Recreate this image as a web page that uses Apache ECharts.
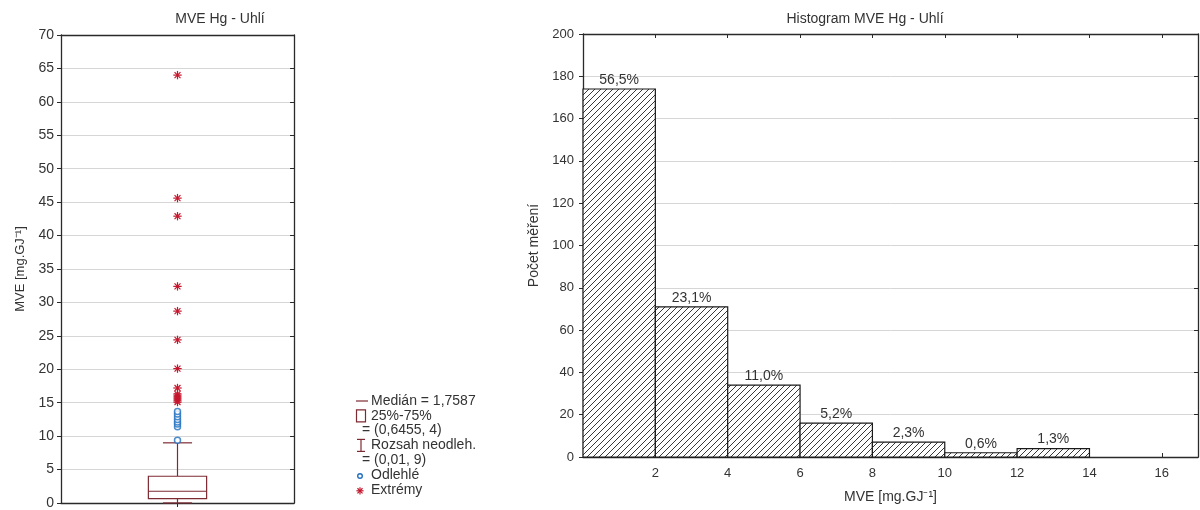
<!DOCTYPE html>
<html>
<head>
<meta charset="utf-8">
<script src="https://cdn.jsdelivr.net/npm/echarts@6/dist/echarts.min.js"></script>
<style>
  html, body { margin: 0; padding: 0; background: #fff; }
  #chart { width: 1200px; height: 510px; }
</style>
</head>
<body>
<div id="chart"></div>
<script>
// MVE Hg – coal: box plot summary (min of non-outlier range, Q1, median, Q3, max of non-outlier range)
const boxSummary = [0.01, 0.6455, 1.7587, 4, 9];
// Outliers (circles) and extremes (asterisks), mg.GJ-1
const outlierValues = [9.4, 11.4, 11.8, 12.1, 12.5, 12.9, 13.3, 13.7];
const extremeValues = [15.1, 15.4, 15.7, 16.0, 16.3, 17.2, 20.1, 24.4, 28.7, 32.4, 42.9, 45.6, 64.0];

// Histogram: bin edges and counts per bin
const binEdges = [0, 2, 4, 6, 8, 10, 12, 14];
const binCounts = [174, 71, 34, 16, 7, 2, 4];
const histTicks = [2, 4, 6, 8, 10, 12, 14, 16];

// Legend texts of the box plot
const legendLines = [
  'Medián = 1,7587',
  '25%-75%',
  '= (0,6455, 4)',
  'Rozsah neodleh.',
  '= (0,01, 9)',
  'Odlehlé',
  'Extrémy'
];

const FONT = '"Liberation Sans", Arial, sans-serif';
const TXT = '#333';
const AXIS = '#2a2a2a';
const GRIDC = '#d6d6d6';
const BOXC = '#7d2a33';
const OUTC = '#2270c0';
const EXTC = '#c4162c';

// diagonal hatch pattern for histogram bars
const hatch = (function () {
  const c = document.createElement('canvas');
  c.width = 6; c.height = 6;
  const g = c.getContext('2d');
  g.fillStyle = '#fff';
  g.fillRect(0, 0, 6, 6);
  g.strokeStyle = '#222';
  g.lineWidth = 0.9;
  g.beginPath();
  g.moveTo(-1, 7); g.lineTo(7, -1);
  g.moveTo(-1, 1); g.lineTo(1, -1);
  g.moveTo(5, 7); g.lineTo(7, 5);
  g.stroke();
  return { image: c, repeat: 'repeat' };
})();

const total = binCounts.reduce((a, b) => a + b, 0);
const histData = binCounts.map((n, i) => [binEdges[i], binEdges[i + 1], n]);

function asteriskChildren(cx, cy, r, color) {
  const d = r * Math.SQRT1_2;
  const segs = [[0, -r, 0, r], [-r, 0, r, 0], [-d, -d, d, d], [-d, d, d, -d]];
  return segs.map(s => ({
    type: 'line',
    shape: { x1: cx + s[0], y1: cy + s[1], x2: cx + s[2], y2: cy + s[3] },
    style: { stroke: color, lineWidth: 1.2 }
  }));
}

const chart = echarts.init(document.getElementById('chart'), null, { renderer: 'canvas' });

const axisLineStyle = { show: true, onZero: false, lineStyle: { color: AXIS, width: 1.3 } };
const labelStyle = (size) => ({ color: TXT, fontFamily: FONT, fontSize: size });

// legend graphics
const LX = 356, LY0 = 401, LDY = 14.8;
const legendGraphics = [];
legendGraphics.push({ type: 'line', shape: { x1: LX, y1: LY0, x2: LX + 12, y2: LY0 }, style: { stroke: BOXC, lineWidth: 1.2 } });
legendGraphics.push({ type: 'rect', shape: { x: LX + 0.5, y: LY0 + LDY - 6, width: 9, height: 12 }, style: { fill: '#fff', stroke: BOXC, lineWidth: 1.2 } });
const wy = LY0 + 3 * LDY;
legendGraphics.push({ type: 'line', shape: { x1: LX + 1, y1: wy - 6, x2: LX + 9, y2: wy - 6 }, style: { stroke: BOXC, lineWidth: 1.2 } });
legendGraphics.push({ type: 'line', shape: { x1: LX + 5, y1: wy - 6, x2: LX + 5, y2: wy + 6 }, style: { stroke: BOXC, lineWidth: 1.2 } });
legendGraphics.push({ type: 'line', shape: { x1: LX + 1, y1: wy + 6, x2: LX + 9, y2: wy + 6 }, style: { stroke: BOXC, lineWidth: 1.2 } });
legendGraphics.push({ type: 'circle', shape: { cx: LX + 4, cy: LY0 + 5 * LDY + 1, r: 2.3 }, style: { fill: '#fff', stroke: OUTC, lineWidth: 1.4 } });
asteriskChildren(LX + 4, LY0 + 6 * LDY + 1, 3.6, EXTC).forEach(g => legendGraphics.push(g));
legendLines.forEach((t, i) => {
  const indent = t.charAt(0) === '=' ? 6 : 15;
  legendGraphics.push({
    type: 'text',
    style: { text: t, x: LX + indent, y: LY0 + i * LDY, verticalAlign: 'middle', fill: TXT, font: '14px ' + FONT }
  });
});

const option = {
  animation: false,
  backgroundColor: '#fff',
  graphic: [
    { type: 'text', style: { text: 'MVE Hg - Uhlí', x: 220, y: 19, align: 'center', verticalAlign: 'middle', fill: TXT, font: '14px ' + FONT } },
    { type: 'text', style: { text: 'Histogram MVE Hg - Uhlí', x: 865, y: 19, align: 'center', verticalAlign: 'middle', fill: TXT, font: '14px ' + FONT } }
  ].concat(legendGraphics),
  grid: [
    { left: 61, top: 35, width: 233, height: 469 },
    { left: 583, top: 34, width: 615, height: 423 }
  ],
  xAxis: [
    {
      type: 'value', gridIndex: 0, min: 0, max: 2, interval: 1,
      axisLine: axisLineStyle,
      axisTick: { show: true, inside: false, length: 4, customValues: [1], lineStyle: { color: AXIS } },
      axisLabel: { show: false },
      splitLine: { show: false }
    },
    {
      type: 'value', gridIndex: 0, position: 'top', min: 0, max: 2, interval: 1,
      axisLine: axisLineStyle, axisTick: { show: false }, axisLabel: { show: false }, splitLine: { show: false }
    },
    {
      type: 'value', gridIndex: 1, min: 0, max: 17, interval: 2,
      axisLine: axisLineStyle,
      axisTick: { show: true, inside: true, length: 4, customValues: histTicks, lineStyle: { color: AXIS } },
      axisLabel: Object.assign({ margin: 10, customValues: histTicks }, labelStyle(13)),
      splitLine: { show: false },
      name: 'MVE [mg.GJ⁻¹]', nameLocation: 'middle', nameGap: 33,
      nameTextStyle: labelStyle(14)
    },
    {
      type: 'value', gridIndex: 1, position: 'top', min: 0, max: 17, interval: 2,
      axisLine: axisLineStyle,
      axisTick: { show: true, inside: true, length: 4, customValues: histTicks, lineStyle: { color: AXIS } },
      axisLabel: { show: false }, splitLine: { show: false }
    }
  ],
  yAxis: [
    {
      type: 'value', gridIndex: 0, min: 0, max: 70, interval: 5,
      axisLine: axisLineStyle,
      axisTick: { show: true, inside: false, length: 4, lineStyle: { color: AXIS } },
      axisLabel: Object.assign({ margin: 7 }, labelStyle(14)),
      splitLine: { show: true, lineStyle: { color: GRIDC, width: 1 } },
      name: 'MVE [mg.GJ⁻¹]', nameLocation: 'middle', nameGap: 34,
      nameTextStyle: labelStyle(13)
    },
    {
      type: 'value', gridIndex: 0, position: 'right', min: 0, max: 70, interval: 5,
      axisLine: axisLineStyle,
      axisTick: { show: true, inside: true, length: 4, lineStyle: { color: AXIS } },
      axisLabel: { show: false }, splitLine: { show: false }
    },
    {
      type: 'value', gridIndex: 1, min: 0, max: 200, interval: 20,
      axisLine: axisLineStyle,
      axisTick: { show: true, inside: false, length: 4, lineStyle: { color: AXIS } },
      axisLabel: Object.assign({ margin: 9 }, labelStyle(13)),
      splitLine: { show: true, lineStyle: { color: GRIDC, width: 1 } },
      name: 'Počet měření', nameLocation: 'middle', nameGap: 40,
      nameTextStyle: labelStyle(14)
    },
    {
      type: 'value', gridIndex: 1, position: 'right', min: 0, max: 200, interval: 20,
      axisLine: axisLineStyle,
      axisTick: { show: true, inside: true, length: 4, lineStyle: { color: AXIS } },
      axisLabel: { show: false }, splitLine: { show: false }
    }
  ],
  series: [
    {
      // box with whiskers
      type: 'custom', xAxisIndex: 0, yAxisIndex: 0,
      data: [[1].concat(boxSummary)],
      encode: { x: 0, y: [1, 2, 3, 4, 5] },
      renderItem: function (params, api) {
        const x = api.value(0);
        const pMin = api.coord([x, api.value(1)]);
        const pQ1 = api.coord([x, api.value(2)]);
        const pMed = api.coord([x, api.value(3)]);
        const pQ3 = api.coord([x, api.value(4)]);
        const pMax = api.coord([x, api.value(5)]);
        const bw = api.size([0.5, 0])[0];
        const cw = api.size([0.25, 0])[0];
        const cx = pMed[0];
        const st = { stroke: BOXC, lineWidth: 1.2, fill: null };
        return {
          type: 'group',
          children: [
            { type: 'line', shape: { x1: cx, y1: pQ3[1], x2: cx, y2: pMax[1] }, style: st },
            { type: 'line', shape: { x1: cx, y1: pQ1[1], x2: cx, y2: pMin[1] }, style: st },
            { type: 'line', shape: { x1: cx - cw / 2, y1: pMax[1], x2: cx + cw / 2, y2: pMax[1] }, style: st },
            { type: 'line', shape: { x1: cx - cw / 2, y1: pMin[1], x2: cx + cw / 2, y2: pMin[1] }, style: st },
            { type: 'rect', shape: { x: cx - bw / 2, y: pQ3[1], width: bw, height: pQ1[1] - pQ3[1] }, style: { stroke: BOXC, lineWidth: 1.2, fill: '#fff' } },
            { type: 'line', shape: { x1: cx - bw / 2, y1: pMed[1], x2: cx + bw / 2, y2: pMed[1] }, style: st }
          ]
        };
      },
      z: 2
    },
    {
      type: 'scatter', xAxisIndex: 0, yAxisIndex: 0,
      data: outlierValues.map(v => [1, v]),
      symbol: 'circle', symbolSize: 6,
      itemStyle: { color: '#fff', borderColor: OUTC, borderWidth: 1.5 },
      z: 3
    },
    {
      type: 'custom', xAxisIndex: 0, yAxisIndex: 0,
      data: extremeValues.map(v => [1, v]),
      renderItem: function (params, api) {
        const p = api.coord([api.value(0), api.value(1)]);
        return { type: 'group', children: asteriskChildren(p[0], p[1], 4.2, EXTC) };
      },
      z: 3
    },
    {
      // histogram bars with percentage labels
      type: 'custom', xAxisIndex: 2, yAxisIndex: 2,
      data: histData,
      encode: { x: [0, 1], y: 2 },
      renderItem: function (params, api) {
        const lo = api.value(0), hi = api.value(1), n = api.value(2);
        const p0 = api.coord([lo, 0]);
        const p1 = api.coord([hi, n]);
        const pct = (n / total * 100).toFixed(1).replace('.', ',') + '%';
        return {
          type: 'group',
          children: [
            { type: 'rect', shape: { x: p0[0], y: p1[1], width: p1[0] - p0[0], height: p0[1] - p1[1] },
              style: { fill: hatch, stroke: '#1a1a1a', lineWidth: 1.2 } },
            { type: 'text', style: { text: pct, x: (p0[0] + p1[0]) / 2, y: p1[1] - 2, align: 'center', verticalAlign: 'bottom', fill: TXT, font: '14px ' + FONT } }
          ]
        };
      },
      z: 2
    }
  ]
};

chart.setOption(option);
</script>
</body>
</html>
